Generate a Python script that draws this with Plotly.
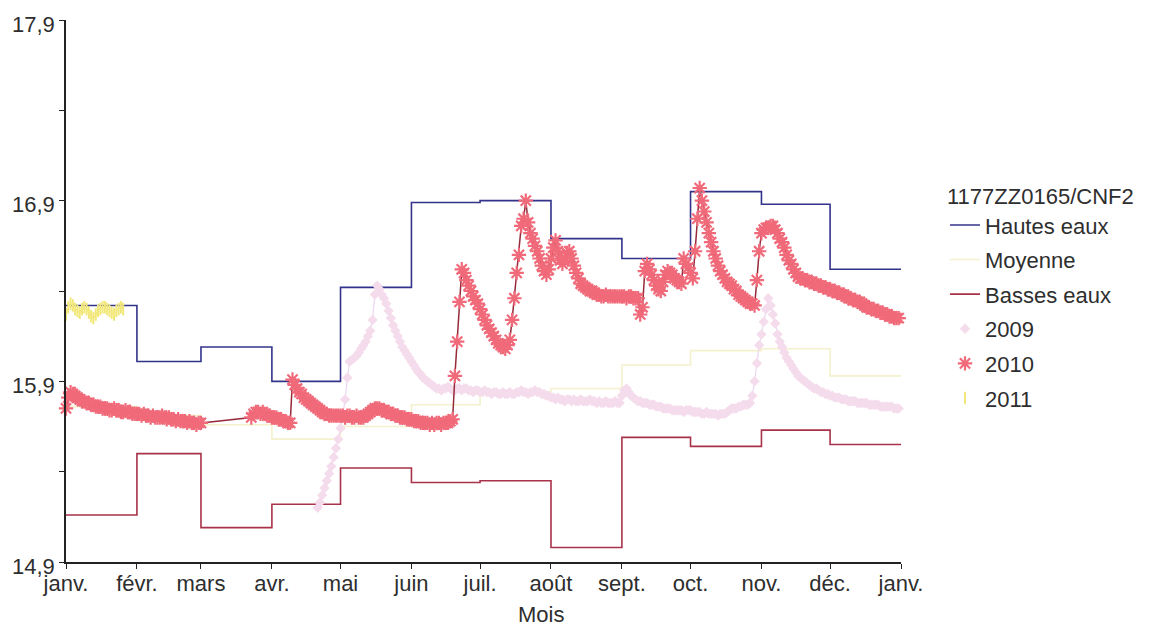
import pandas as pd
import plotly.graph_objects as go

# ---- axes -----------------------------------------------------------------
MOIS = ["janv.", "févr.", "mars", "avr.", "mai", "juin", "juil.", "août",
        "sept.", "oct.", "nov.", "déc.", "janv."]
Y_TICKS = [14.9, 15.4, 15.9, 16.4, 16.9, 17.4, 17.9]
Y_LABELS = ["14,9", "", "15,9", "", "16,9", "", "17,9"]

# ---- monthly reference levels (m) ----------------------------------------
hautes_eaux = [16.32, 16.01, 16.09, 15.90, 16.42, 16.89, 16.90, 16.69, 16.58, 16.95, 16.88, 16.52]
moyenne = [15.76, 15.71, 15.66, 15.58, 15.65, 15.77, 15.84, 15.86, 15.99, 16.07, 16.08, 15.93]
basses_eaux = [15.16, 15.50, 15.09, 15.22, 15.42, 15.34, 15.35, 14.98, 15.59, 15.54, 15.63, 15.55]

# ---- daily levels, one list per month (None = no measurement) -------------
niveaux_2009 = [
    [],
    [],
    [],
    [None] * 20 + [15.20, 15.23, 15.27, 15.31, 15.35, 15.39, 15.43, 15.48, 15.53, 15.58],
    [15.64, 15.71, 15.80, 15.92, 16.01, 16.02, 16.03, 16.04, 16.06, 16.08, 16.10, 16.12, 16.15,
     16.18, 16.24, 16.38, 16.43, 16.41, 16.38, 16.36, 16.33, 16.29, 16.25, 16.21, 16.18, 16.15,
     16.12, 16.09, 16.07, 16.05, 16.03],
    [16.01, 15.99, 15.97, 15.95, 15.94, 15.92, 15.91, 15.90, 15.89, 15.88, 15.87, 15.86, 15.86,
     15.85, 15.86, 15.86, 15.87, 15.86, 15.85, 15.85, 15.86, 15.86, 15.85, 15.86, 15.86, 15.85,
     15.85, 15.84, 15.85, 15.85],
    [15.84, 15.84, 15.85, 15.84, 15.84, 15.83, 15.84, 15.84, 15.83, 15.83, 15.84, 15.83, 15.83,
     15.84, 15.83, 15.83, 15.84, 15.84, 15.85, 15.84, 15.84, 15.83, 15.84, 15.84, 15.85, 15.84,
     15.84, 15.83, 15.83, 15.82, 15.82],
    [15.81, 15.81, 15.80, 15.81, 15.80, 15.80, 15.79, 15.80, 15.80, 15.79, 15.80, 15.79, 15.79,
     15.80, 15.79, 15.79, 15.79, 15.80, 15.79, 15.79, 15.78, 15.79, 15.78, 15.78, 15.79, 15.78,
     15.78, 15.78, 15.79, 15.78, 15.78],
    [15.82, 15.85, 15.86, 15.84, 15.82, 15.81, 15.80, 15.79, 15.79, 15.78, 15.78, 15.78, 15.77,
     15.77, 15.77, 15.76, 15.76, 15.76, 15.75, 15.75, 15.75, 15.75, 15.74, 15.74, 15.74, 15.74,
     15.74, 15.73, 15.74, 15.74],
    [15.74, 15.73, 15.73, 15.73, 15.73, 15.72, 15.72, 15.73, 15.72, 15.72, 15.72, 15.72, 15.71,
     15.72, 15.72, 15.72, 15.73, 15.74, 15.75, 15.75, 15.75, 15.76, 15.76, 15.77, 15.77, 15.77,
     15.78, 15.82, 15.90, 16.00, 16.10],
    [16.16, 16.23, 16.30, 16.36, 16.32, 16.27, 16.22, 16.16, 16.12, 16.09, 16.06, 16.03, 16.01,
     15.99, 15.97, 15.95, 15.93, 15.92, 15.91, 15.90, 15.89, 15.88, 15.87, 15.86, 15.86, 15.85,
     15.84, 15.84, 15.83, 15.83],
    [15.82, 15.82, 15.81, 15.81, 15.81, 15.80, 15.80, 15.80, 15.79, 15.79, 15.79, 15.79, 15.78,
     15.78, 15.78, 15.78, 15.78, 15.77, 15.77, 15.77, 15.77, 15.77, 15.76, 15.76, 15.76, 15.76,
     15.76, 15.76, 15.75, 15.75, 15.75],
]

niveaux_2010 = [
    [15.75, 15.81, 15.84, 15.83, 15.82, 15.81, 15.80, 15.79, 15.79, 15.78, 15.78, 15.77, 15.77,
     15.76, 15.76, 15.76, 15.75, 15.75, 15.75, 15.74, 15.74, 15.75, 15.74, 15.74, 15.73, 15.73,
     15.74, 15.73, 15.73, 15.72, 15.72],
    [15.72, 15.72, 15.71, 15.72, 15.71, 15.71, 15.70, 15.71, 15.70, 15.70, 15.70, 15.71, 15.70,
     15.69, 15.70, 15.69, 15.69, 15.68, 15.69, 15.68, 15.68, 15.68, 15.67, 15.68, 15.67, 15.67,
     15.66, 15.67],
    [15.67] + [None] * 21 + [15.70, 15.72, 15.73, 15.73, 15.72, 15.73, 15.72, 15.71, 15.71],
    [15.70, 15.70, 15.70, 15.69, 15.69, 15.68, 15.68, 15.67, 15.67, 15.91, 15.88, 15.86, 15.84,
     15.83, 15.81, 15.80, 15.79, 15.78, 15.77, 15.76, 15.75, 15.74, 15.73, 15.72, 15.72, 15.71,
     15.71, 15.71, 15.71, 15.71],
    [15.71, 15.71, 15.70, 15.71, 15.71, 15.70, 15.70, 15.71, 15.70, 15.70, 15.70, 15.71, 15.72,
     15.73, 15.74, 15.75, 15.75, 15.75, 15.74, 15.74, 15.73, 15.73, 15.72, 15.72, 15.71, 15.71,
     15.70, 15.70, 15.70, 15.69, 15.69],
    [15.69, 15.68, 15.68, 15.68, 15.67, 15.67, 15.67, 15.67, 15.66, 15.67, 15.66, 15.67, 15.67,
     15.66, 15.67, 15.67, 15.67, 15.68, 15.69, 15.93, 16.12, 16.34, 16.52, 16.50, 16.46, 16.43,
     16.40, 16.37, 16.35, 16.33],
    [16.30, 16.27, 16.24, 16.21, 16.19, 16.17, 16.15, 16.13, 16.11, 16.10, 16.09, 16.08, 16.10,
     16.13, 16.24, 16.36, 16.50, 16.60, 16.76, 16.80, 16.90, 16.78, 16.72, 16.69, 16.65, 16.62,
     16.58, 16.54, 16.51, 16.49, 16.52],
    [16.58, 16.64, 16.68, 16.62, 16.57, 16.55, 16.58, 16.61, 16.62, 16.58, 16.54, 16.50, 16.47,
     16.44, 16.43, 16.42, 16.41, 16.40, 16.40, 16.39, 16.38, 16.38, 16.37, 16.37, 16.38, 16.37,
     16.37, 16.37, 16.37, 16.37, 16.37],
    [16.37, 16.37, 16.36, 16.37, 16.37, 16.36, 16.36, 16.36, 16.27, 16.31, 16.51, 16.55, 16.52,
     16.49, 16.46, 16.43, 16.41, 16.40, 16.45, 16.49, 16.51, 16.50, 16.49, 16.47, 16.46, 16.45,
     16.44, 16.58, 16.55, 16.53],
    [16.50, 16.47, 16.62, 16.80, 16.97, 16.90, 16.84, 16.78, 16.72, 16.67, 16.62, 16.58, 16.54,
     16.51, 16.49, 16.47, 16.45, 16.44, 16.43, 16.41, 16.40, 16.38, 16.37, 16.36, 16.35, 16.34,
     16.33, 16.33, 16.32, 16.46, 16.62],
    [16.72, 16.74, 16.75, 16.75, 16.76, 16.76, 16.74, 16.72, 16.69, 16.67, 16.64, 16.60, 16.57,
     16.55, 16.52, 16.50, 16.48, 16.47, 16.47, 16.46, 16.46, 16.45, 16.45, 16.44, 16.44, 16.43,
     16.43, 16.42, 16.42, 16.41],
    [16.41, 16.40, 16.40, 16.39, 16.39, 16.38, 16.38, 16.37, 16.36, 16.36, 16.35, 16.35, 16.34,
     16.34, 16.33, 16.32, 16.31, 16.31, 16.30, 16.30, 16.29, 16.29, 16.28, 16.28, 16.27, 16.27,
     16.26, 16.26, 16.25, 16.25, 16.25],
]

niveaux_2011 = [
    [16.27, 16.31, 16.33, 16.32, 16.30, 16.29, 16.28, 16.30, 16.31, 16.30, 16.28, 16.26, 16.25,
     16.27, 16.29, 16.30, 16.31, 16.31, 16.30, 16.29, 16.28, 16.27, 16.29, 16.30, 16.31, 16.30],
]

# ---- styling ---------------------------------------------------------------
FONT = "Liberation Sans, Arial, sans-serif"
TEXT = "#2e2e2e"
AXIS = "#222222"

debut_mois = pd.date_range("2010-01-01", periods=13, freq="MS")


def paliers(valeurs):
    """Monthly step levels held until the end of the year."""
    return list(debut_mois), list(valeurs) + [valeurs[-1]]


def journalier(mois):
    """Flatten per-month daily lists into dates / values."""
    xs, ys = [], []
    for i, vals in enumerate(mois):
        if not vals:
            continue
        jours = pd.date_range(debut_mois[i], periods=len(vals), freq="D")
        xs.extend(jours)
        ys.extend(vals)
    return xs, ys


fig = go.Figure()

for nom, vals, couleur in [("Hautes eaux", hautes_eaux, "#33338c"),
                           ("Moyenne", moyenne, "#f4f1cc"),
                           ("Basses eaux", basses_eaux, "#a8324a")]:
    x, y = paliers(vals)
    fig.add_trace(go.Scatter(x=x, y=y, mode="lines", name=nom, legendgroup=nom,
                             line=dict(color=couleur, width=1.6, shape="hv")))

# 2009: pale diamonds on a lavender line
x09, y09 = journalier(niveaux_2009)
fig.add_trace(go.Scatter(x=x09, y=y09, mode="lines", legendgroup="2009", showlegend=False,
                         line=dict(color="#ebd6f0", width=1.2), hoverinfo="skip"))
fig.add_trace(go.Scatter(x=x09, y=y09, mode="markers", name="2009", legendgroup="2009",
                         marker=dict(symbol="diamond", size=8, color="#f5dcec",
                                     line=dict(width=0)), cliponaxis=False))

# 2010: salmon asterisks joined by a dark red line
x10, y10 = journalier(niveaux_2010)
fig.add_trace(go.Scatter(x=x10, y=y10, mode="lines", legendgroup="2010", showlegend=False,
                         connectgaps=True, line=dict(color="#962a3a", width=1.5),
                         hoverinfo="skip"))
fig.add_trace(go.Scatter(x=x10, y=y10, mode="markers", name="2010", legendgroup="2010",
                         marker=dict(symbol="asterisk-open", size=12, color="#f06a7a",
                                     line=dict(color="#f06a7a", width=2.2)),
                         cliponaxis=False))

# 2011: yellow ticks
x11, y11 = journalier(niveaux_2011)
fig.add_trace(go.Scatter(x=x11, y=y11, mode="lines", legendgroup="2011", showlegend=False,
                         line=dict(color="#f1e88c", width=1.2), hoverinfo="skip"))
fig.add_trace(go.Scatter(x=x11, y=y11, mode="markers", name="2011", legendgroup="2011",
                         marker=dict(symbol="line-ns-open", size=9, color="#f2e87a",
                                     line=dict(color="#f2e87a", width=2)),
                         cliponaxis=False))

fig.update_layout(
    width=1168, height=629,
    margin=dict(l=66, r=267, t=18, b=67),
    paper_bgcolor="white", plot_bgcolor="white",
    font=dict(family=FONT, size=22, color=TEXT),
    showlegend=True,
    legend=dict(
        title=dict(text="1177ZZ0165/CNF2", font=dict(size=22, color=TEXT)),
        x=1.0527, xanchor="left", y=0.713, yanchor="top",
        bgcolor="rgba(0,0,0,0)", borderwidth=0,
        font=dict(size=22, color=TEXT), tracegroupgap=3, itemwidth=30,
    ),
    xaxis=dict(
        type="date", range=[debut_mois[0], debut_mois[-1]],
        tickvals=list(debut_mois), ticktext=MOIS,
        showline=True, linecolor=AXIS, linewidth=1.5,
        ticks="outside", ticklen=5, tickcolor=AXIS, tickwidth=1.3,
        showgrid=False, zeroline=False, ticklabelstandoff=-4,
        tickfont=dict(size=22, color=TEXT),
    ),
    yaxis=dict(
        range=[14.9, 17.9], tickvals=Y_TICKS, ticktext=Y_LABELS,
        showline=True, linecolor=AXIS, linewidth=1.5,
        ticks="outside", ticklen=5, tickcolor=AXIS, tickwidth=1.3,
        showgrid=False, zeroline=False, ticklabelshift=4,
        tickfont=dict(size=22, color=TEXT),
    ),
    annotations=[dict(text="Mois", xref="paper", yref="paper", x=0.569, y=-0.097,
                      xanchor="center", yanchor="middle", showarrow=False,
                      font=dict(size=22, color=TEXT))],
)

fig.write_html("out.html")
